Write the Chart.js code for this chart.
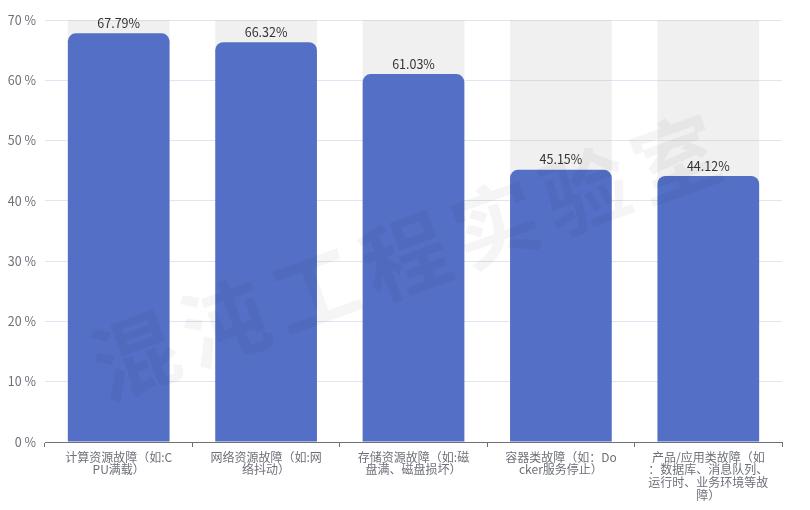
<!DOCTYPE html>
<html lang="zh">
<head>
    <meta charset="UTF-8">
    <title>故障类型占比</title>
    <style>
        body { margin: 0; background: #ffffff; }
        .chart-container { width: 810px; height: 510px; position: relative; }
    </style>
</head>
<body>
    <div class="chart-container">
        <canvas id="faultChart"></canvas>
    </div>

    <script src="https://cdn.jsdelivr.net/npm/chart.js"></script>
    <script>
        // categories, wrapped the same way as the original axis labels
        const categories = [
            ['计算资源故障（如:C', 'PU满载）'],
            ['网络资源故障（如:网', '络抖动）'],
            ['存储资源故障（如:磁', '盘满、磁盘损坏）'],
            ['容器类故障（如：Do', 'cker服务停止）'],
            ['产品/应用类故障（如', '：数据库、消息队列、', '运行时、业务环境等故', '障）']
        ];
        const percentValues = [67.79, 66.32, 61.03, 45.15, 44.12];
        const yTicks = [0, 10, 20, 30, 40, 50, 60, 70];
        const yMax = yTicks[yTicks.length - 1];
        const watermarkText = '混沌工程实验室';

        const textColor = '#6e7079';
        const fontFamily = "'Noto Sans CJK SC', 'Noto Sans', sans-serif";

        // value labels above each bar
        const valueLabels = {
            id: 'valueLabels',
            afterDatasetsDraw(chart) {
                const ctx = chart.ctx;
                const meta = chart.getDatasetMeta(1);
                ctx.save();
                ctx.font = '12.5px ' + fontFamily;
                ctx.fillStyle = '#333333';
                ctx.textAlign = 'center';
                ctx.textBaseline = 'bottom';
                meta.data.forEach((bar, i) => {
                    ctx.fillText(percentValues[i].toFixed(2) + '%', bar.x, bar.y - 4);
                });
                ctx.restore();
            }
        };

        // faint rotated watermark on top of everything
        const watermark = {
            id: 'watermark',
            afterDraw(chart) {
                const ctx = chart.ctx;
                ctx.save();
                ctx.translate(410, 255);
                ctx.rotate(-20 * Math.PI / 180);
                ctx.font = 'bold 86px ' + fontFamily;
                ctx.letterSpacing = '10px';
                ctx.fillStyle = 'rgba(0, 0, 0, 0.04)';
                ctx.textAlign = 'center';
                ctx.textBaseline = 'middle';
                ctx.fillText(watermarkText, 0, 0);
                ctx.restore();
            }
        };

        const ctx = document.getElementById('faultChart').getContext('2d');
        new Chart(ctx, {
            type: 'bar',
            data: {
                labels: categories,
                datasets: [
                    {
                        label: 'background',
                        data: categories.map(() => yMax),
                        backgroundColor: 'rgba(180, 180, 180, 0.2)',
                        grouped: false,
                        order: 2,
                        barPercentage: 0.69,
                        categoryPercentage: 1
                    },
                    {
                        label: '占比',
                        data: percentValues,
                        backgroundColor: '#5470c6',
                        borderRadius: { topLeft: 8, topRight: 8 },
                        borderSkipped: 'bottom',
                        grouped: false,
                        order: 1,
                        barPercentage: 0.69,
                        categoryPercentage: 1
                    }
                ]
            },
            options: {
                responsive: true,
                maintainAspectRatio: false,
                animation: false,
                layout: { padding: { top: 20, right: 28, left: 0, bottom: 0 } },
                plugins: {
                    legend: { display: false },
                    tooltip: { enabled: false }
                },
                scales: {
                    x: {
                        grid: {
                            offset: true,
                            drawOnChartArea: false,
                            drawTicks: true,
                            tickLength: 5,
                            color: textColor
                        },
                        border: { color: textColor },
                        ticks: {
                            color: textColor,
                            font: { family: fontFamily, size: 12, lineHeight: 1.05 },
                            maxRotation: 0,
                            autoSkip: false,
                            padding: 4
                        },
                        afterFit(scale) { scale.height = 68; }
                    },
                    y: {
                        min: 0,
                        max: yMax,
                        afterBuildTicks(scale) {
                            scale.ticks = yTicks.map(v => ({ value: v }));
                        },
                        grid: { color: '#e0e6f1', drawTicks: false },
                        border: { display: false },
                        ticks: {
                            color: textColor,
                            font: { family: fontFamily, size: 12.5 },
                            padding: 9,
                            callback: v => v + ' %'
                        },
                        afterFit(scale) { scale.width = 45; }
                    }
                }
            },
            plugins: [valueLabels, watermark]
        });
    </script>
</body>
</html>
